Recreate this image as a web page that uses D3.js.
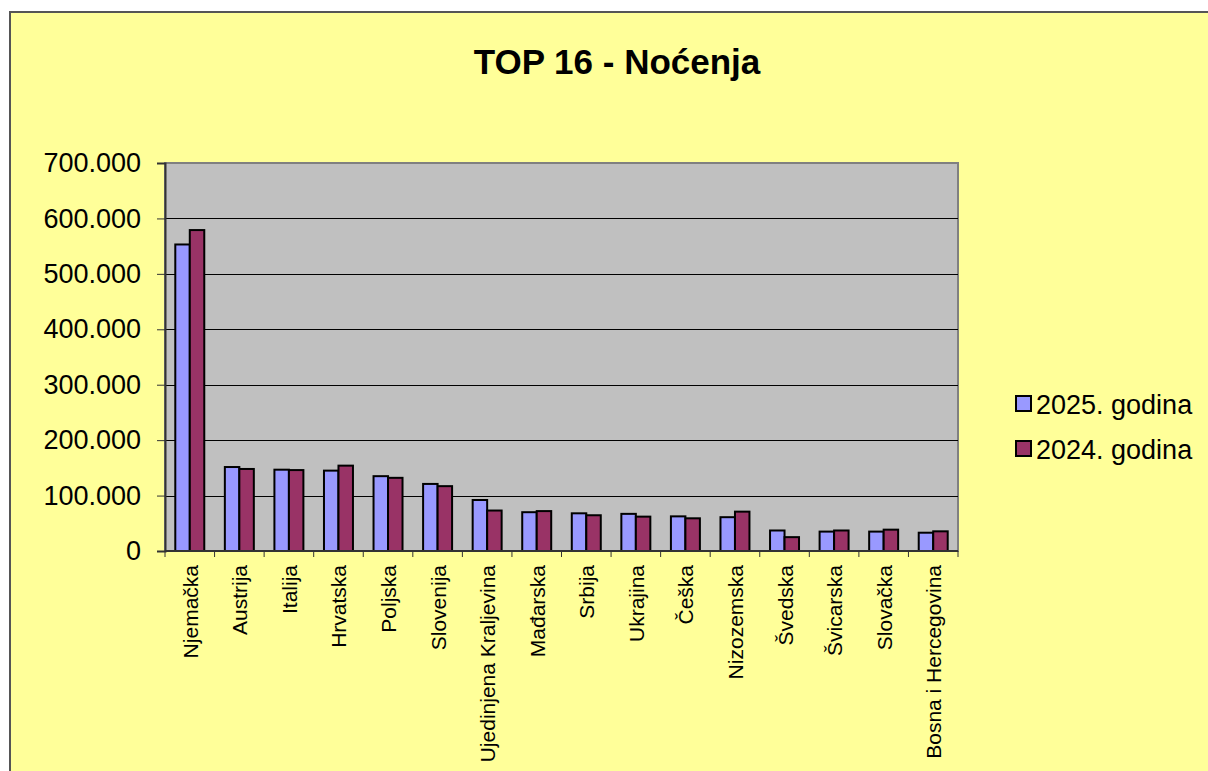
<!DOCTYPE html>
<html>
<head>
  <meta charset="utf-8">
  <title>TOP 16 - Noćenja</title>
  <style>
    body { margin: 0; background: #fff; }
    svg { display: block; font-family: "Liberation Sans", Arial, sans-serif; }
  </style>
  <script src="https://cdn.jsdelivr.net/npm/d3@7"></script>
</head>
<body>
<svg id="chart" width="1208" height="771"></svg>
<script>

// data
var countries = ["Njemačka", "Austrija", "Italija", "Hrvatska", "Poljska", "Slovenija",
  "Ujedinjena Kraljevina", "Mađarska", "Srbija", "Ukrajina", "Češka", "Nizozemska",
  "Švedska", "Švicarska", "Slovačka", "Bosna i Hercegovina"];
var series = ["2025. godina", "2024. godina"];
var values2025 = [553000, 151500, 146700, 145000, 135000, 121000, 92000, 70000,
  68000, 67000, 62500, 61000, 37000, 35000, 35000, 33000];
var values2024 = [579000, 148000, 146000, 154000, 132000, 117000, 73000, 72000,
  64500, 62000, 59000, 71000, 25000, 37000, 38500, 35500];
var yTicks = [0, 100000, 200000, 300000, 400000, 500000, 600000, 700000];
var colors = ["#9999ff", "#993366"];

var svg = d3.select("#chart");

var plotLeft = 165, plotRight = 958, plotTop = 163, plotBottom = 551;

// chart area background + border
svg.append("rect")
  .attr("x", 10).attr("y", 12)
  .attr("width", 1230).attr("height", 800)
  .attr("fill", "#ffff99")
  .attr("stroke", "#555")
  .attr("stroke-width", 2);

svg.append("text")
  .attr("x", 617).attr("y", 74)
  .attr("text-anchor", "middle")
  .style("font-size", "35px")
  .style("font-weight", "bold")
  .text("TOP 16 - Noćenja");

var x = d3.scaleBand().domain(countries).range([plotLeft, plotRight]);
var x1 = d3.scaleBand().domain(series).range([0, x.bandwidth()]).paddingOuter(0.71);
var y = d3.scaleLinear().domain([0, 700000]).range([plotBottom, plotTop]);

var fmt = d3.formatLocale({decimal: ",", thousands: ".", grouping: [3], currency: ["", ""]}).format(",d");

// plot area
svg.append("rect")
  .attr("x", plotLeft).attr("y", plotTop)
  .attr("width", plotRight - plotLeft).attr("height", plotBottom - plotTop)
  .attr("fill", "#c0c0c0")
  .attr("stroke", "#808080")
  .attr("stroke-width", 2);

// gridlines
svg.append("g").selectAll("line")
  .data(yTicks.filter(function(d) { return d > 0 && d < 700000; }))
  .join("line")
  .attr("x1", plotLeft).attr("x2", plotRight)
  .attr("y1", function(d) { return Math.round(y(d)) + 0.5; })
  .attr("y2", function(d) { return Math.round(y(d)) + 0.5; })
  .attr("stroke", "#000")
  .attr("stroke-width", 1);

// bars
var rows = countries.map(function(c, i) {
  return {country: c, vals: [values2025[i], values2024[i]]};
});

var groups = svg.append("g").selectAll("g")
  .data(rows)
  .join("g")
  .attr("transform", function(d) { return "translate(" + x(d.country) + ",0)"; });

groups.selectAll("rect")
  .data(function(d) { return d.vals.map(function(v, j) { return {s: series[j], v: v, j: j}; }); })
  .join("rect")
  .attr("x", function(d) { return x1(d.s); })
  .attr("y", function(d) { return y(d.v); })
  .attr("width", x1.bandwidth())
  .attr("height", function(d) { return plotBottom - y(d.v); })
  .attr("fill", function(d) { return colors[d.j]; })
  .attr("stroke", "#000")
  .attr("stroke-width", 2);

// y axis
var yAxis = svg.append("g")
  .attr("transform", "translate(" + plotLeft + ",0)")
  .call(d3.axisLeft(y).tickValues(yTicks).tickFormat(fmt).tickSize(8).tickPadding(16));
yAxis.select(".domain").attr("stroke", "#333").attr("stroke-width", 2);
yAxis.selectAll(".tick line").attr("stroke", "#333");
yAxis.selectAll(".tick text")
  .attr("fill", "#000")
  .style("font-size", "27px")
  .style("font-family", "'Liberation Sans', Arial, sans-serif");

// x axis line and boundary ticks
svg.append("line")
  .attr("x1", plotLeft).attr("x2", plotRight)
  .attr("y1", plotBottom).attr("y2", plotBottom)
  .attr("stroke", "#333").attr("stroke-width", 2);
svg.append("g").selectAll("line")
  .data(d3.range(countries.length + 1))
  .join("line")
  .attr("x1", function(i) { return plotLeft + i * x.step(); })
  .attr("x2", function(i) { return plotLeft + i * x.step(); })
  .attr("y1", plotBottom).attr("y2", plotBottom + 6)
  .attr("stroke", "#333");

// category labels
svg.append("g").selectAll("text")
  .data(countries)
  .join("text")
  .attr("transform", function(d) {
    return "translate(" + (x(d) + x.bandwidth() / 2 + 8) + "," + (plotBottom + 14) + ") rotate(-90)";
  })
  .attr("text-anchor", "end")
  .style("font-size", "21px")
  .text(function(d) { return d; });

// legend
var legend = svg.append("g").selectAll("g")
  .data(series)
  .join("g")
  .attr("transform", function(d, i) { return "translate(1016," + (404 + i * 45) + ")"; });
legend.append("rect")
  .attr("x", 0).attr("y", -8)
  .attr("width", 15).attr("height", 15)
  .attr("fill", function(d, i) { return colors[i]; })
  .attr("stroke", "#000").attr("stroke-width", 2);
legend.append("text")
  .attr("x", 20).attr("y", 10)
  .style("font-size", "27px")
  .text(function(d) { return d; });

</script>
</body>
</html>
